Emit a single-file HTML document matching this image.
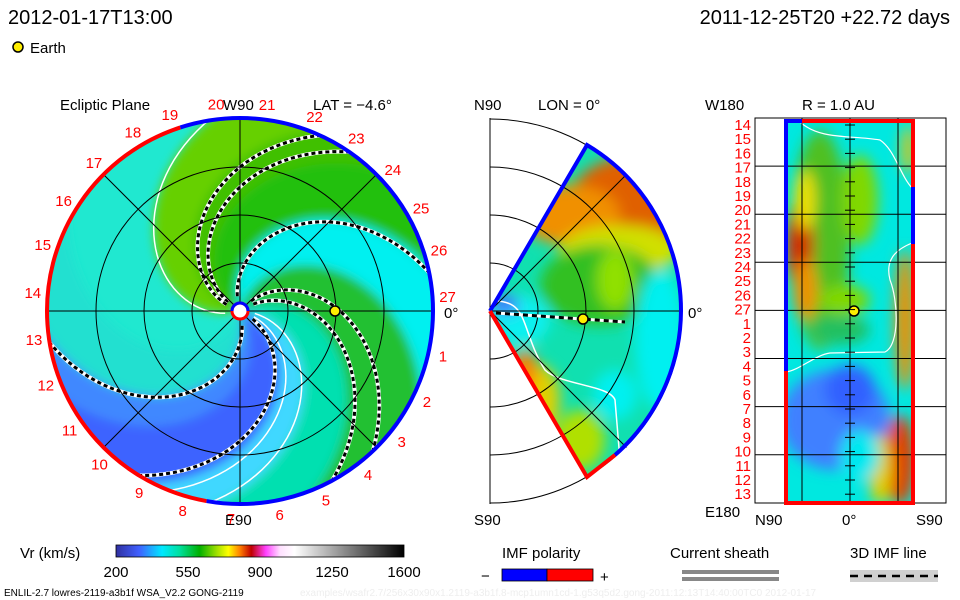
<!DOCTYPE html>
<html><head><meta charset="utf-8"><style>
html,body{margin:0;padding:0;background:#fff;width:960px;height:600px;overflow:hidden}
svg{display:block}
text{font-family:"Liberation Sans",sans-serif}
</style></head><body>
<svg id="s" width="960" height="600" viewBox="0 0 960 600">
<defs>
<filter id="bl" x="-20%" y="-20%" width="140%" height="140%"><feGaussianBlur stdDeviation="5"/></filter>
<filter id="bl2" x="-30%" y="-30%" width="160%" height="160%"><feGaussianBlur stdDeviation="7"/></filter>
<clipPath id="diskClip"><circle cx="240" cy="311" r="193"/></clipPath>
<clipPath id="wedgeClip"><path d="M490,311 L587,145 A193,193 0 0 1 587,477 Z"/></clipPath>
<clipPath id="rectClip"><rect x="786" y="121" width="127" height="382"/></clipPath>
<linearGradient id="cbar" x1="0" x2="1" y1="0" y2="0">
<stop offset="0" stop-color="#3030a0"/><stop offset="0.08" stop-color="#4060ff"/><stop offset="0.16" stop-color="#00e8ff"/>
<stop offset="0.22" stop-color="#00e0a0"/><stop offset="0.29" stop-color="#00b000"/><stop offset="0.35" stop-color="#a0e000"/>
<stop offset="0.39" stop-color="#ffff00"/><stop offset="0.43" stop-color="#ff8000"/><stop offset="0.47" stop-color="#c00000"/>
<stop offset="0.52" stop-color="#ff40ff"/><stop offset="0.57" stop-color="#ffe0ff"/><stop offset="0.62" stop-color="#ffffff"/>
<stop offset="1" stop-color="#000000"/></linearGradient>
</defs>
<text x="8" y="24" font-size="20">2012-01-17T13:00</text>
<text x="950" y="24" font-size="20" text-anchor="end">2011-12-25T20 +22.72 days</text>
<circle cx="18" cy="47" r="5" fill="#ffee00" stroke="#000" stroke-width="1.5"/>
<text x="30" y="53" font-size="15">Earth</text>

<g>
<text x="60" y="110" font-size="15">Ecliptic Plane</text>
<text x="223" y="110" font-size="15">W90</text>
<text x="313" y="110" font-size="15">LAT = −4.6°</text>
<text x="225" y="525" font-size="15">E90</text>
<text x="444" y="318" font-size="15">0°</text>
<g clip-path="url(#diskClip)"><circle cx="240" cy="311" r="193" fill="#20e8d0"/><g id="bands" filter="url(#bl)"></g><g id="spirals"></g></g>
<g id="diskGrid"></g>
<g id="diskLabels"></g>
</g>

<g>
<text x="474" y="110" font-size="15">N90</text>
<text x="538" y="110" font-size="15">LON = 0°</text>
<text x="474" y="525" font-size="15">S90</text>
<text x="688" y="318" font-size="15">0°</text>
<g clip-path="url(#wedgeClip)">
<rect x="480" y="130" width="210" height="360" fill="#10e0b0"/>
<g filter="url(#bl2)">
<ellipse cx="640" cy="200" rx="70" ry="45" fill="#e06000"/>
<ellipse cx="570" cy="215" rx="50" ry="30" fill="#f09000"/>
<ellipse cx="620" cy="250" rx="60" ry="25" fill="#d0e000"/>
<ellipse cx="600" cy="285" rx="60" ry="40" fill="#30c020"/>
<ellipse cx="615" cy="280" rx="18" ry="30" fill="#90e000"/>
<ellipse cx="660" cy="340" rx="25" ry="70" fill="#00f0f0"/>
<ellipse cx="520" cy="320" rx="30" ry="25" fill="#10f0f0"/>
<ellipse cx="505" cy="305" rx="14" ry="10" fill="#4070ff"/>
<ellipse cx="540" cy="400" rx="20" ry="35" fill="#e0d000"/>
<ellipse cx="525" cy="370" rx="12" ry="20" fill="#ff8000"/>
<ellipse cx="580" cy="440" rx="25" ry="30" fill="#b0e000"/>
<ellipse cx="615" cy="395" rx="22" ry="25" fill="#00f0f0"/>
</g>
<path d="M493,301 C530,300 520,330 545,370 C560,385 610,385 615,400 L620,460" fill="none" stroke="#fff" stroke-width="1.5"/>
</g>
<g id="merGrid"></g>
<path d="M490,311 L587,145 A193,193 0 0 1 681,311" fill="none" stroke="#0000ff" stroke-width="4"/>
<path d="M681,311 A193,193 0 0 1 615,455" fill="none" stroke="#0000ff" stroke-width="4"/>
<path d="M490,311 L587,477 L615,455" fill="none" stroke="#ff0000" stroke-width="4"/>
<line x1="496" y1="313" x2="625" y2="322" stroke="#fff" stroke-width="3"/>
<line x1="496" y1="313" x2="625" y2="322" stroke="#000" stroke-width="3" stroke-dasharray="5,4"/>
<circle cx="583" cy="319" r="5" fill="#ffee00" stroke="#000" stroke-width="1.5"/>
</g>

<g>
<text x="705" y="110" font-size="15">W180</text>
<text x="802" y="110" font-size="15">R = 1.0 AU</text>
<text x="705" y="517" font-size="15">E180</text>
<text x="755" y="525" font-size="15">N90</text>
<text x="842" y="525" font-size="15">0°</text>
<text x="916" y="525" font-size="15">S90</text>
<rect x="755" y="118" width="191" height="385" fill="none" stroke="#000" stroke-width="1"/>
<g clip-path="url(#rectClip)">
<rect x="786" y="121" width="127" height="382" fill="#00e8e0"/>
<g filter="url(#bl2)">
<ellipse cx="820" cy="240" rx="30" ry="110" fill="#50c020"/>
<ellipse cx="800" cy="245" rx="14" ry="45" fill="#d03000"/>
<ellipse cx="805" cy="200" rx="10" ry="30" fill="#f0e000"/>
<ellipse cx="805" cy="290" rx="12" ry="30" fill="#f09000"/>
<ellipse cx="860" cy="200" rx="18" ry="45" fill="#80d800"/>
<ellipse cx="845" cy="300" rx="25" ry="15" fill="#80d800"/>
<ellipse cx="840" cy="330" rx="30" ry="15" fill="#20c060"/>
<ellipse cx="908" cy="150" rx="6" ry="25" fill="#f0c000"/>
<ellipse cx="905" cy="320" rx="10" ry="70" fill="#f09000"/>
<ellipse cx="835" cy="420" rx="55" ry="50" fill="#4080ff"/>
<ellipse cx="850" cy="390" rx="25" ry="25" fill="#3060ff"/>
<ellipse cx="900" cy="460" rx="15" ry="45" fill="#e04000"/>
<ellipse cx="880" cy="470" rx="12" ry="35" fill="#e0d000"/>
<ellipse cx="860" cy="455" rx="20" ry="25" fill="#00e8f0"/>
</g>
<path d="M786,372 C800,370 815,355 830,353 L885,352 C900,345 898,300 890,280 C885,260 895,250 912,243" fill="none" stroke="#fff" stroke-width="1.2"/>
<path d="M800,122 C820,140 850,135 880,140 C895,150 900,175 912,188" fill="none" stroke="#fff" stroke-width="1.2"/>
</g>
<g id="rGrid"></g>
<path d="M786,371 L786,121 L802,121" fill="none" stroke="#0000ff" stroke-width="4"/>
<path d="M786,371 L786,503 L913,503 L913,244" fill="none" stroke="#ff0000" stroke-width="4"/>
<path d="M802,121 L913,121 L913,187" fill="none" stroke="#ff0000" stroke-width="4"/>
<path d="M913,187 L913,244" fill="none" stroke="#0000ff" stroke-width="4"/>
<circle cx="854" cy="311" r="5" fill="#ffee00" stroke="#000" stroke-width="1.5"/>
<g id="rLabels"></g>
</g>

<g>
<text x="20" y="558" font-size="15">Vr (km/s)</text>
<rect x="116" y="545" width="288" height="12" fill="url(#cbar)" stroke="#000" stroke-width="0.8"/>
<g id="cbTicks"></g>
</g>
<g>
<text x="502" y="558" font-size="15">IMF polarity</text>
<text x="481" y="581" font-size="15">−</text>
<rect x="502" y="569" width="45" height="12" fill="#0000ff" stroke="#000" stroke-width="0.8"/>
<rect x="547" y="569" width="46" height="12" fill="#ff0000" stroke="#000" stroke-width="0.8"/>
<text x="600" y="582" font-size="15">+</text>
</g>
<g>
<text x="670" y="558" font-size="15">Current sheath</text>
<rect x="682" y="570" width="97" height="4" fill="#888"/>
<rect x="682" y="577" width="97" height="4" fill="#888"/>
</g>
<g>
<text x="850" y="558" font-size="15">3D IMF line</text>
<rect x="850" y="570" width="88" height="12" fill="#d0d0d0"/>
<line x1="850" y1="576" x2="938" y2="576" stroke="#000" stroke-width="2.5" stroke-dasharray="8,6"/>
</g>
<text x="4" y="596" font-size="10">ENLIL-2.7 lowres-2119-a3b1f WSA_V2.2 GONG-2119</text>
<text x="300" y="596" font-size="10" fill="#eee">examples/wsafr2.7/256x30x90x1.2119-a3b1f.8-mcp1umn1cd-1.g53q5d2.gong-2011:12:13T14:40:00TC0    2012-01-17</text>
</svg>
<script>
// ---- data ----
const cbTickLabels=["200","550","900","1250","1600"];
const cbTickValues=[200,550,900,1250,1600];
const bandStart=[196,165,145,110,75,30,0,-20,-55,-75,-110];
const bandColors=["#66d000","#40c000","#20c010","#00f0f0","#20c030","#00e0b0","#40d8ff","#3c64ff","#4088ff","#20e0d0"];
const dashedSpirals=[152,162,108,50,35,-74,-25];
const whiteSpirals=[196,-2,-15];
const sectorLabels=["19","20","21","22","23","24","25","26","27","1","2","3","4","5","6","7","8","9","10","11","12","13","14","15","16","17","18"];
const sectorAngles=[109.7,96.6,82.5,69,56,42.7,29.5,16.9,3.8,-12.7,-26,-39,-52,-65.6,-79,-92.5,-106,-119,-132.5,-145,-159,-172,175,161.5,148,134.6,121];
const rLabels=["14","15","16","17","18","19","20","21","22","23","24","25","26","27","1","2","3","4","5","6","7","8","9","10","11","12","13"];
const ringRadii=[48,96,144];
const NS="http://www.w3.org/2000/svg";
const cx=240,cy=311,R=193,K=0.5;
function mk(t,a,p){const e=document.createElementNS(NS,t);for(const k in a)e.setAttribute(k,a[k]);p.appendChild(e);return e;}
function sp(t0,r){const a=(t0-K*r)*Math.PI/180;return [cx+r*Math.cos(a),cy-r*Math.sin(a)];}
function spiralPts(t0){const p=[];for(let r=0;r<=260;r+=5)p.push(sp(t0,r));return p;}
const bands=document.getElementById('bands');
for(let i=0;i<bandColors.length;i++){
 const a=spiralPts(bandStart[i]),b=spiralPts(bandStart[i+1]).reverse();
 const el=mk('path',{d:'M'+a.concat(b).map(p=>p.join(',')).join('L')+'Z',fill:bandColors[i]},bands);
 
 
}
const spG=document.getElementById('spirals');
whiteSpirals.forEach(t=>{const el=mk('polyline',{points:spiralPts(t).filter((p,i)=>i>2).join(' '),fill:'none',stroke:'#fff','stroke-width':1.5},spG);
 
 });
dashedSpirals.forEach(t=>{const pts=spiralPts(t).filter((p,i)=>i>2).join(' ');
 mk('polyline',{points:pts,fill:'none',stroke:'#fff','stroke-width':4},spG);
 const el=mk('polyline',{points:pts,fill:'none',stroke:'#000','stroke-width':3,'stroke-dasharray':'4,3'},spG);
 
 });
const dg=document.getElementById('diskGrid');
ringRadii.forEach(r=>mk('circle',{cx,cy,r,fill:'none',stroke:'#000','stroke-width':1},dg));
[0,45,90,135].forEach(a=>{const c=Math.cos(a*Math.PI/180)*R,s=Math.sin(a*Math.PI/180)*R;mk('line',{x1:cx-c,y1:cy+s,x2:cx+c,y2:cy-s,stroke:'#000','stroke-width':1},dg);});
mk('path',{d:`M${cx},${cy} m0,-${R} A${R},${R} 0 1 1 ${cx+R*Math.cos(-100*Math.PI/180)},${cy-R*Math.sin(-100*Math.PI/180)}`,fill:'none',stroke:'#0000ff','stroke-width':4},dg);
mk('path',{d:`M${cx+R*Math.cos(-100*Math.PI/180)},${cy-R*Math.sin(-100*Math.PI/180)} A${R},${R} 0 0 1 ${cx+R*Math.cos(108*Math.PI/180)},${cy-R*Math.sin(108*Math.PI/180)}`,fill:'none',stroke:'#ff0000','stroke-width':4},dg);
mk('path',{d:`M${cx+R*Math.cos(108*Math.PI/180)},${cy-R*Math.sin(108*Math.PI/180)} A${R},${R} 0 0 1 ${cx},${cy-R}`,fill:'none',stroke:'#0000ff','stroke-width':4},dg);
mk('circle',{cx,cy,r:8,fill:'#fff',stroke:'#ff0000','stroke-width':3},dg);
mk('path',{d:`M${cx-8},${cy} A8,8 0 0 1 ${cx+8},${cy}`,fill:'none',stroke:'#0000ff','stroke-width':3},dg);
const earth=mk('circle',{cx:335,cy:311,r:5,fill:'#ffee00',stroke:'#000','stroke-width':1.5},dg);


const dl=document.getElementById('diskLabels');
sectorLabels.forEach((s,i)=>{const a=sectorAngles[i]*Math.PI/180,r=208;
 const t=mk('text',{x:cx+r*Math.cos(a),y:cy-r*Math.sin(a)+5,'font-size':15,fill:'#ff0000','text-anchor':'middle'},dl);t.textContent=s;
 
 });
// meridional grid
const mg=document.getElementById('merGrid');const mcx=490;
mk('line',{x1:mcx,y1:118,x2:mcx,y2:504,stroke:'#000'},mg);
ringRadii.concat([192]).forEach(r=>mk('path',{d:`M${mcx},${cy-r} A${r},${r} 0 0 1 ${mcx},${cy+r}`,fill:'none',stroke:'#000','stroke-width':1},mg));
[45,0,-45].forEach(a=>{const ar=a*Math.PI/180;mk('line',{x1:mcx,y1:cy,x2:mcx+193*Math.cos(ar),y2:cy-193*Math.sin(ar),stroke:'#000'},mg);});
// R panel grid
const rg=document.getElementById('rGrid');
[802,850,898].forEach(x=>mk('line',{x1:x,y1:118,x2:x,y2:503,stroke:'#000'},rg));
for(let j=1;j<8;j++){const y=118+j*48.1;mk('line',{x1:755,y1:y,x2:946,y2:y,stroke:'#000'},rg);}
const rl=document.getElementById('rLabels');
rLabels.forEach((s,i)=>{const y=125+i*14.2;
 const t=mk('text',{x:751,y:y+5,'font-size':15,fill:'#ff0000','text-anchor':'end'},rl);t.textContent=s;
 
 
 mk('line',{x1:845,y1:y,x2:855,y2:y,stroke:'#000'},rl);});
// colorbar ticks
const cb=document.getElementById('cbTicks');
const vx=v=>116+(v-200)/(1600-200)*288;
cbTickValues.forEach((v,i)=>{const t=mk('text',{x:vx(v),y:577,'font-size':15,'text-anchor':'middle'},cb);t.textContent=cbTickLabels[i];
 
 });
</script>
</body></html>
